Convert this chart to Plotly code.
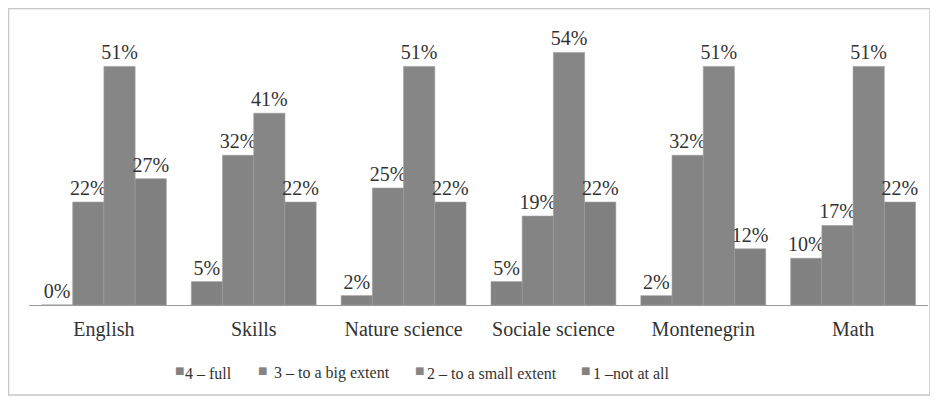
import plotly.graph_objects as go

categories = ["English", "Skills", "Nature science", "Sociale science", "Montenegrin", "Math"]
series_names = ["4 – full", "3 – to a big extent", "2 – to a small extent", "1 –not at all"]
full = [0, 5, 2, 5, 2, 10]
big = [22, 32, 25, 19, 32, 17]
small = [51, 41, 51, 54, 51, 51]
not_at_all = [27, 22, 22, 22, 12, 22]
colors = ["#828282", "#848484", "#868686", "#808080"]

OFF = 8  # page body margin
W, H = 930, 392
L, R, T, B = 21, 10, 21, 95
pw, ph = W - L - R, H - T - B


def px(sx):
    return (sx - OFF - L) / pw


def py(sy):
    return (H - B - (sy - OFF)) / ph


fig = go.Figure()
for name, vals, c in zip(series_names, [full, big, small, not_at_all], colors):
    fig.add_trace(go.Bar(
        x=categories, y=[v / 100 for v in vals], name=name,
        marker=dict(color=c, line=dict(color="#9c9c9c", width=0.6)),
        text=[f"{v}%" for v in vals], textposition="outside", cliponaxis=False,
        constraintext="none",
        textfont=dict(family="Liberation Serif", size=20, color="#333333"),
    ))

# legend drawn as swatch + label
legend_sq_x = [179, 262, 419, 585]
legend_tx_x = [183, 272, 425, 591]
annotations = []
for name, c, sqx, tx in zip(series_names, colors, legend_sq_x, legend_tx_x):
    annotations.append(dict(xref="paper", yref="paper", x=px(sqx), y=py(370),
                            text="■", showarrow=False, xanchor="center", yanchor="middle",
                            font=dict(family="DejaVu Sans", size=10, color=c)))
    annotations.append(dict(xref="paper", yref="paper", x=px(tx), y=py(373),
                            text=name, showarrow=False, xanchor="left", yanchor="middle",
                            font=dict(family="Liberation Serif", size=16, color="#333333")))

fig.update_layout(
    width=W, height=H, margin=dict(l=L, r=R, t=T, b=B),
    paper_bgcolor="white", plot_bgcolor="white",
    barmode="group", bargap=0.167, bargroupgap=0,
    font=dict(family="Liberation Serif", size=20, color="#333333"),
    xaxis=dict(showline=True, linecolor="#9a9a9a", linewidth=1, ticks="",
               ticklabelstandoff=6, tickfont=dict(size=20, color="#333333")),
    yaxis=dict(range=[0, 0.59], visible=False),
    showlegend=False,
    annotations=annotations,
    shapes=[dict(type="rect", xref="paper", yref="paper",
                 x0=px(8.5), x1=px(930),
                 y0=py(395), y1=py(8.5),
                 line=dict(color="#c8c8c8", width=1.5), fillcolor="rgba(0,0,0,0)", layer="below")],
)
fig.write_html("out.html")
